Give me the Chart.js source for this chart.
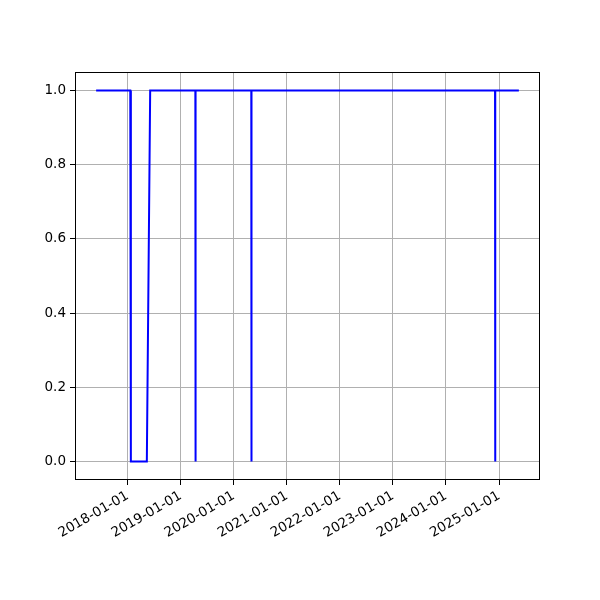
<!DOCTYPE html>
<html>
<head>
<meta charset="utf-8">
<script src="https://cdn.jsdelivr.net/npm/chart.js@4"></script>
<style>
body{margin:0;background:#fff;}
</style>
</head>
<body>
<canvas id="chart" width="600" height="600"></canvas>
<script>

const dates=['2017-05-29','2018-01-19','2018-01-23','2018-05-13','2018-06-05','2019-04-12','2019-04-13','2019-04-14','2020-05-01','2020-05-02','2020-05-03','2024-12-04','2024-12-05','2024-12-06','2025-05-17'];
const values=[1,1,0,0,1,1,0,1,1,0,1,1,0,1,1];
const xTickLabels=['2018-01-01','2019-01-01','2020-01-01','2021-01-01','2022-01-01','2023-01-01','2024-01-01','2025-01-01'];
const yTickLabels=[0,0.2,0.4,0.6,0.8,1.0];

const points=dates.map((d,i)=>({x:Date.parse(d),y:values[i]}));
const xFirst=points[0].x;
const xLast=points[points.length-1].x;
const xPad=(xLast-xFirst)*0.05;

// black frame round the plot area
const frame={
    id:'frame',
    afterDraw(chart){
        const a=chart.chartArea;
        const c=chart.ctx;
        c.save();
        c.strokeStyle='#000';
        c.lineWidth=1;
        c.strokeRect(Math.round(a.left)+0.5,Math.round(a.top)+0.5,Math.round(a.right-a.left)-1,Math.round(a.bottom-a.top)-1);
        c.restore();
    }
};

const font={family:'DejaVu Sans',size:13.5};

new Chart(document.getElementById('chart'),{
    type:'line',
    data:{
        datasets:[{
            data:points,
            borderColor:'#0000ff',
            borderWidth:2,
            pointRadius:0,
            tension:0,
            fill:false
        }]
    },
    options:{
        responsive:false,
        animation:false,
        devicePixelRatio:1,
        layout:{padding:{top:72,right:60,left:0,bottom:0}},
        plugins:{legend:{display:false},tooltip:{enabled:false}},
        scales:{
            x:{
                type:'linear',
                min:xFirst-xPad,
                max:xLast+xPad,
                afterBuildTicks(scale){
                    scale.ticks=xTickLabels.map(s=>({value:Date.parse(s)}));
                },
                afterFit(scale){scale.height=120;},
                ticks:{
                    autoSkip:false,
                    minRotation:30,
                    maxRotation:30,
                    padding:3,
                    color:'#000',
                    font:font,
                    callback:v=>new Date(v).toISOString().slice(0,10)
                },
                grid:{color:'#b0b0b0',lineWidth:1,tickColor:'#000',tickLength:5},
                border:{display:false}
            },
            y:{
                min:-0.05,
                max:1.05,
                afterBuildTicks(scale){
                    scale.ticks=yTickLabels.map(v=>({value:v}));
                },
                afterFit(scale){scale.width=75;},
                ticks:{
                    padding:4,
                    color:'#000',
                    font:font,
                    callback:v=>v.toFixed(1)
                },
                grid:{color:'#b0b0b0',lineWidth:1,tickColor:'#000',tickLength:5},
                border:{display:false}
            }
        }
    },
    plugins:[frame]
});
</script>
</body>
</html>
